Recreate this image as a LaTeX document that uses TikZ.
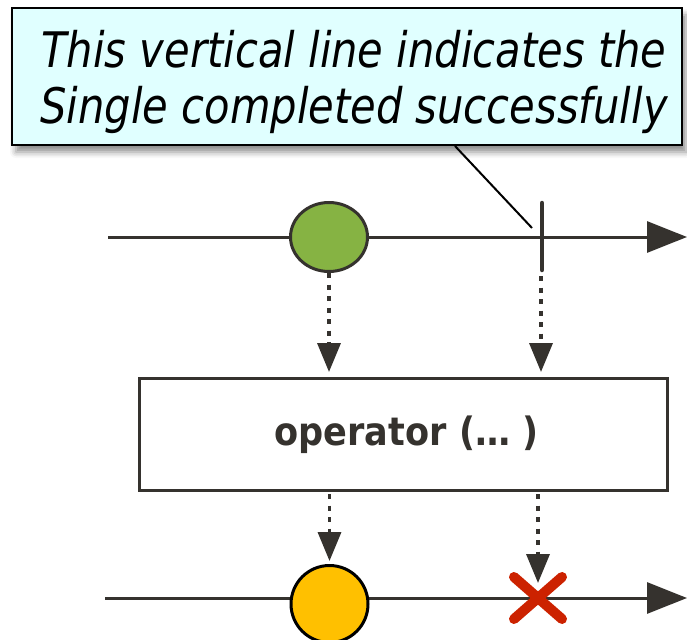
\documentclass[tikz,border=0pt]{standalone}
\usepackage{fontspec}
\usetikzlibrary{arrows.meta,shapes.geometric,shadows.blur}
\newfontfamily\notefont[FakeStretch=0.85]{DejaVu Sans}
\newfontfamily\opfont[FakeStretch=0.9]{DejaVu Sans}
\definecolor{ink}{HTML}{35322E}
\definecolor{leaf}{HTML}{86B343}
\definecolor{amber}{HTML}{FFC000}
\definecolor{crossred}{HTML}{CC2200}
\definecolor{notebg}{HTML}{E0FFFF}
\tikzset{
  timeline/.style={draw=ink, line width=3pt, -{Triangle[length=40pt,width=31pt]}},
  emission/.style={draw=ink, line width=3.5pt, dash pattern=on 5pt off 6.5pt,
    -{Triangle[length=29pt,width=23pt]}},
  notebox/.style={draw=black, line width=2pt, fill=notebg, inner sep=0pt,
    blur shadow={shadow xshift=4pt, shadow yshift=-7pt, shadow blur radius=6pt, shadow opacity=45}},
  opbox/.style={draw=ink, line width=3pt, fill=white, inner sep=0pt},
  marble/.style={draw=ink, line width=3pt, inner sep=0pt},
  notetext/.style={anchor=base, inner sep=0pt, font=\notefont\itshape\fontsize{49}{56}\selectfont},
}
\begin{document}
\begin{tikzpicture}[x=1pt,y=-1pt]
\useasboundingbox (0,0) rectangle (687,639);

% callout
\node[notebox, minimum width=670pt, minimum height=137pt] (note) at (347,76.5) {};
\node[notetext] (line1) at (354,68) {This vertical line indicates the};
\node[notetext] (line2) at (354,124) {Single completed successfully};
\coordinate (pstart) at (455,146);
\coordinate (pend) at (532,228);
\draw[black, line width=2pt] (pstart) -- (pend);

% upper timeline
\coordinate (u0) at (108,237);
\coordinate (u1) at (687,237);
\draw[timeline] (u0) -- (u1);
\node[marble, fill=leaf, ellipse, minimum width=77pt, minimum height=69pt] (green) at (329,237) {};
\coordinate (bartop) at (542,203);
\coordinate (barbot) at (542,270);
\draw[ink, line width=4.5pt, line cap=round] (bartop) -- (barbot);

% operator box
\node[opbox, minimum width=528pt, minimum height=112pt] (op) at (403,434) {};
\node[anchor=base, inner sep=0pt, text=ink, font=\opfont\bfseries\fontsize{39}{44}\selectfont] (oplabel) at (406.5,445) {operator (… )};

\coordinate (t1) at (329,372);
\coordinate (t2) at (541,372);
\coordinate (b2s) at (541,276);
\draw[emission] (green.south) -- (t1);
\draw[emission] (b2s) -- (t2);

% lower timeline
\coordinate (d0) at (105,598);
\coordinate (d1) at (687,598);
\draw[timeline] (d0) -- (d1);
\node[marble, draw=black, fill=amber, circle, minimum size=77pt] (yellow) at (329.5,604) {};
\coordinate (xa) at (514,577);
\coordinate (xb) at (562,619);
\coordinate (xc) at (514,619);
\coordinate (xd) at (562,577);
\draw[crossred, line width=10pt, line cap=round] (xa) -- (xb) (xc) -- (xd);

\coordinate (s1) at (329.5,494);
\coordinate (e1) at (329.5,561);
\coordinate (s2) at (538,494);
\coordinate (e2) at (538,583);
\draw[emission] (s1) -- (e1);
\draw[emission] (s2) -- (e2);
\end{tikzpicture}
\end{document}
